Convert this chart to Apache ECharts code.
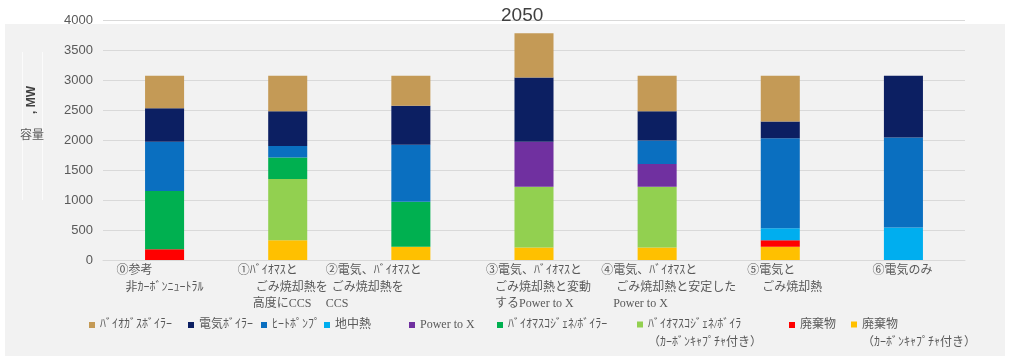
<!DOCTYPE html>
<html>
<head>
<meta charset="utf-8">
<script src="https://cdn.jsdelivr.net/npm/echarts@6/dist/echarts.min.js"></script>
<style>
html,body{margin:0;padding:0;background:#ffffff;}
#chart{width:1017px;height:356px;}
</style>
</head>
<body>
<div id="chart"></div>
<script>
// ---- data ----
const title = '2050';
const categories = [
  '⓪参考\n非ｶｰﾎﾞﾝﾆｭｰﾄﾗﾙ',
  '①ﾊﾞｲｵﾏｽと\nごみ焼却熱を\n高度にCCS',
  '②電気、ﾊﾞｲｵﾏｽと\nごみ焼却熱を\nCCS',
  '③電気、ﾊﾞｲｵﾏｽと\nごみ焼却熱と変動\nするPower to X',
  '④電気、ﾊﾞｲｵﾏｽと\nごみ焼却熱と安定した\nPower to X',
  '⑤電気と\nごみ焼却熱',
  '⑥電気のみ'
];
const seriesNames = [
  'ﾊﾞｲｵｶﾞｽﾎﾞｲﾗｰ', '電気ﾎﾞｲﾗｰ', 'ﾋｰﾄﾎﾟﾝﾌﾟ', '地中熱', 'Power to X',
  'ﾊﾞｲｵﾏｽｺｼﾞｪﾈ/ﾎﾞｲﾗｰ', 'ﾊﾞｲｵﾏｽｺｼﾞｪﾈ/ﾎﾞｲﾗ\n（ｶｰﾎﾞﾝｷｬﾌﾟﾁｬ付き）',
  '廃棄物', '廃棄物\n（ｶｰﾎﾞﾝｷｬﾌﾟﾁｬ付き）'
];
const biogasBoiler   = [540, 590, 500, 740, 590, 760, 0];
const elecBoiler     = [560, 580, 650, 1070, 490, 280, 1030];
const heatPump       = [820, 190, 950, 0, 390, 1500, 1500];
const geothermal     = [0, 0, 0, 0, 0, 200, 540];
const powerToX       = [0, 0, 0, 750, 380, 0, 0];
const biomassCogen   = [970, 360, 750, 0, 0, 0, 0];
const biomassCogenCC = [0, 1020, 0, 1010, 1010, 0, 0];
const waste          = [180, 0, 0, 0, 0, 110, 0];
const wasteCC        = [0, 330, 220, 210, 210, 220, 0];
const yAxisTitle = '容量';
const yAxisUnit = ', MW';

// ---- styling / layout ----
const colors = ['#C49A56', '#0C1F62', '#0A6FC0', '#00AEEF', '#7030A0', '#00B050', '#92D050', '#FF0000', '#FFC000'];
const seriesData = [biogasBoiler, elecBoiler, heatPump, geothermal, powerToX, biomassCogen, biomassCogenCC, waste, wasteCC];
const stackOrder = [8, 7, 6, 5, 3, 4, 2, 1, 0]; // bottom -> top
const labelShift = [-48, -50, -85, -48, -56, -33, -31];
const lineIndent = [[0, 3], [0, 6, 5], [0, 2, 0], [0, 3, 3], [0, 5, 4], [0, 5], [0]];
const legendLeft = [89, 188, 261, 324, 409, 497, 637, 789, 851];
const jpFont = '"Liberation Serif", "Noto Sans CJK JP", serif';
const labelStyle = {
  align: 'left', fontSize: 12, lineHeight: 16.5, color: '#595959', fontFamily: jpFont
};

const chart = echarts.init(document.getElementById('chart'), null, {renderer: 'canvas'});

const series = stackOrder.map(i => ({
  name: seriesNames[i],
  type: 'bar',
  stack: 'total',
  barWidth: '31.7%',
  itemStyle: {color: colors[i]},
  emphasis: {disabled: true},
  data: seriesData[i]
}));

const legends = seriesNames.map((n, i) => {
  const twoLine = n.indexOf('\n') >= 0;
  return {
    left: legendLeft[i],
    top: 316,
    padding: 0,
    itemWidth: 6,
    itemHeight: twoLine ? 25 : 6,
    data: [{name: n, icon: twoLine ? 'path://M0,0H6V6H0Z M0,25H6' : 'rect'}],
    textStyle: {fontSize: 12, lineHeight: 18, color: '#595959', fontFamily: jpFont}
  };
});

chart.setOption({
  animation: false,
  backgroundColor: '#ffffff',
  color: colors,
  title: {
    text: title, left: 501, top: 6, padding: 0,
    textStyle: {fontSize: 19, fontWeight: 'normal', color: '#404040', fontFamily: '"Liberation Sans", Arial, sans-serif'}
  },
  graphic: [
    {type: 'rect', z: -10, silent: true, shape: {x: 5, y: 24, width: 1000, height: 332}, style: {fill: '#f2f2f2'}},
    {type: 'line', z: -9, silent: true, shape: {x1: 22.5, y1: 52, x2: 22.5, y2: 200}, style: {stroke: '#fbfbfb', lineWidth: 1}},
    {type: 'line', z: -9, silent: true, shape: {x1: 42.5, y1: 52, x2: 42.5, y2: 200}, style: {stroke: '#fbfbfb', lineWidth: 1}},
    {type: 'text', silent: true, x: 20, y: 136, style: {text: yAxisTitle, fontSize: 12, fill: '#595959', fontFamily: jpFont, verticalAlign: 'middle'}},
    {type: 'text', silent: true, x: 32, y: 100, rotation: Math.PI / 2,
      style: {text: yAxisUnit, fontSize: 12, fontWeight: 'bold', fill: '#404040', fontFamily: '"Liberation Sans", Arial, sans-serif', align: 'center', verticalAlign: 'middle'}}
  ],
  legend: legends,
  grid: {left: 103, right: 52, top: 20, height: 240, containLabel: false},
  xAxis: {
    type: 'category',
    data: categories.map((c, i) => ({value: c, textStyle: Object.assign({}, labelStyle, {padding: [0, 0, 0, labelShift[i]]})})),
    axisLine: {show: true, lineStyle: {color: '#d9d9d9', width: 1}},
    axisTick: {show: false},
    axisLabel: Object.assign({}, labelStyle, {
      interval: 0,
      margin: 3,
      hideOverlap: false,
      formatter: (v, idx) => v.split('\n').map((l, k) => ' '.repeat((lineIndent[idx] || [])[k] || 0) + l).join('\n')
    })
  },
  yAxis: {
    type: 'value',
    min: 0, max: 4000, interval: 500,
    axisLine: {show: false},
    axisTick: {show: false},
    splitLine: {lineStyle: {color: '#d9d9d9', width: 1}},
    axisLabel: {margin: 10, fontSize: 13, color: '#595959', fontFamily: '"Liberation Sans", Arial, sans-serif', formatter: v => String(v)}
  },
  series: series
});
</script>
</body>
</html>
